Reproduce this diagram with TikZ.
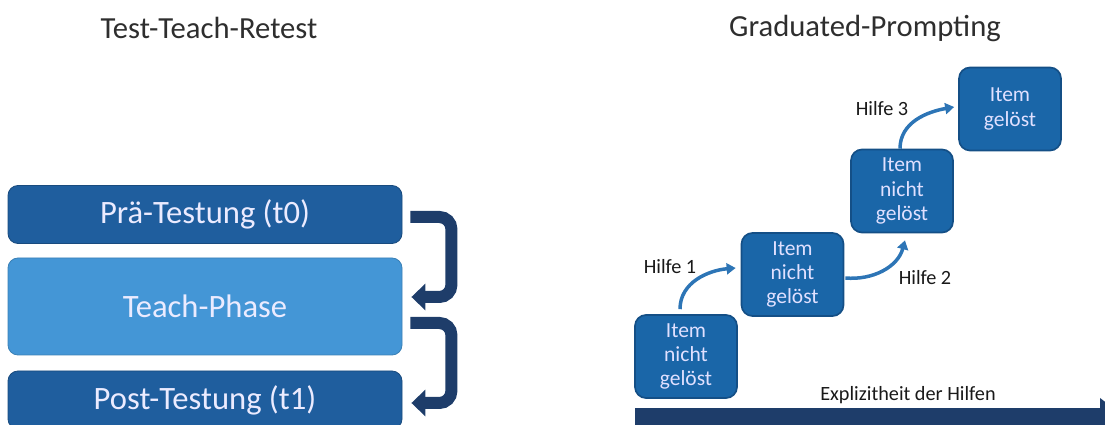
\documentclass[tikz,border=0pt]{standalone}
\usepackage{fontspec}
\setmainfont{Carlito}
\usetikzlibrary{positioning}
\usetikzlibrary{arrows.meta}
\newcommand{\px}{0.025cm}
\definecolor{darkbox}{HTML}{1F5E9E}
\definecolor{lightbox}{HTML}{4496D6}
\definecolor{itembox}{HTML}{1A66A8}
\definecolor{itemedge}{HTML}{144F86}
\definecolor{navy}{HTML}{1E3D6A}
\definecolor{helparrow}{HTML}{2D75B6}
\definecolor{titlegray}{HTML}{2E2E2E}
\tikzset{
    phase/.style = {rectangle,rounded corners=10*\px,draw=darkbox!80!black,line width=0.6pt,
        minimum width=394*\px,text=white!92!blue,font=\fontsize{23.2}{27}\selectfont},
    itembox/.style = {rectangle,rounded corners=11*\px,fill=itembox,draw=itemedge,line width=1.2pt,
        minimum width=102*\px,minimum height=83*\px,align=center,text=white!88!blue,
        font=\fontsize{15.3}{17.2}\selectfont},
    jump/.style = {draw=navy,line width=12*\px,rounded corners=12*\px,
        -{Triangle[length=14*\px,width=26*\px]}},
    help/.style = {draw=helparrow,line width=3.5*\px,-{Triangle[length=9*\px,width=11*\px]}},
    helplabel/.style = {text=black!90,font=\fontsize{14.4}{17}\selectfont},
    title/.style = {text=titlegray,font=\fontsize{21.8}{26}\selectfont}}
\begin{document}
\begin{tikzpicture}[x=\px,y=-\px]
    \useasboundingbox (0,0) rectangle (1105,425);
    % titles
    \node[title] (ttr) at (209,28) {Test-Teach-Retest};
    \node[title] (gp) at (865,28) {Graduated-Prompting};
    % test-teach-retest
    \node[phase,fill=darkbox,minimum height=58*\px] (pre) at (205,214.5) {Prä-Testung (t0)};
    \node[phase,fill=lightbox,draw=lightbox!85!black,minimum height=97*\px] (teach) at (205,306.5) {Teach-Phase};
    \node[phase,fill=darkbox,minimum height=58*\px] (post) at (205,400) {Post-Testung (t1)};
    \draw[jump] ([xshift=8*\px,yshift=-2.5*\px]pre.east) -- ++(41,0) |- ([xshift=9*\px,yshift=9.5*\px]teach.east);
    \draw[jump] ([xshift=8*\px,yshift=-16.5*\px]teach.east) -- ++(41,0) |- ([xshift=9*\px,yshift=-3*\px]post.east);
    % graduated prompting
    \node[itembox] (item0) at (686,356.5) {Item\\nicht\\gelöst};
    \node[itembox] (item1) at (792.5,274.5) {Item\\nicht\\gelöst};
    \node[itembox] (item2) at (902,191) {Item\\nicht\\gelöst};
    \node[itembox] (item3) at (1010,109) {Item\\gelöst};
    \draw[help] ([xshift=-6*\px,yshift=5*\px]item0.north) to [out=90,in=185] ([xshift=-5*\px,yshift=6.5*\px]item1.west);
    \draw[help] ([xshift=1*\px,yshift=-3.5*\px]item1.east) to [out=-5,in=-105] ([xshift=3*\px,yshift=-7*\px]item2.south);
    \draw[help] ([xshift=-2*\px]item2.north) to [out=90,in=190] ([xshift=-4*\px,yshift=2*\px]item3.west);
    \node[helplabel] (h1) at (670,267) {Hilfe 1};
    \node[helplabel] (h2) at (925,278) {Hilfe 2};
    \node[helplabel] (h3) at (882,109) {Hilfe 3};
    % explicitness bar
    \draw[navy,line width=26*\px,-{Triangle[length=30*\px,width=44*\px]}] (635,421) -- (1130,421);
    \node[helplabel] (expl) at (908,395) {Explizitheit der Hilfen};
\end{tikzpicture}
\end{document}
